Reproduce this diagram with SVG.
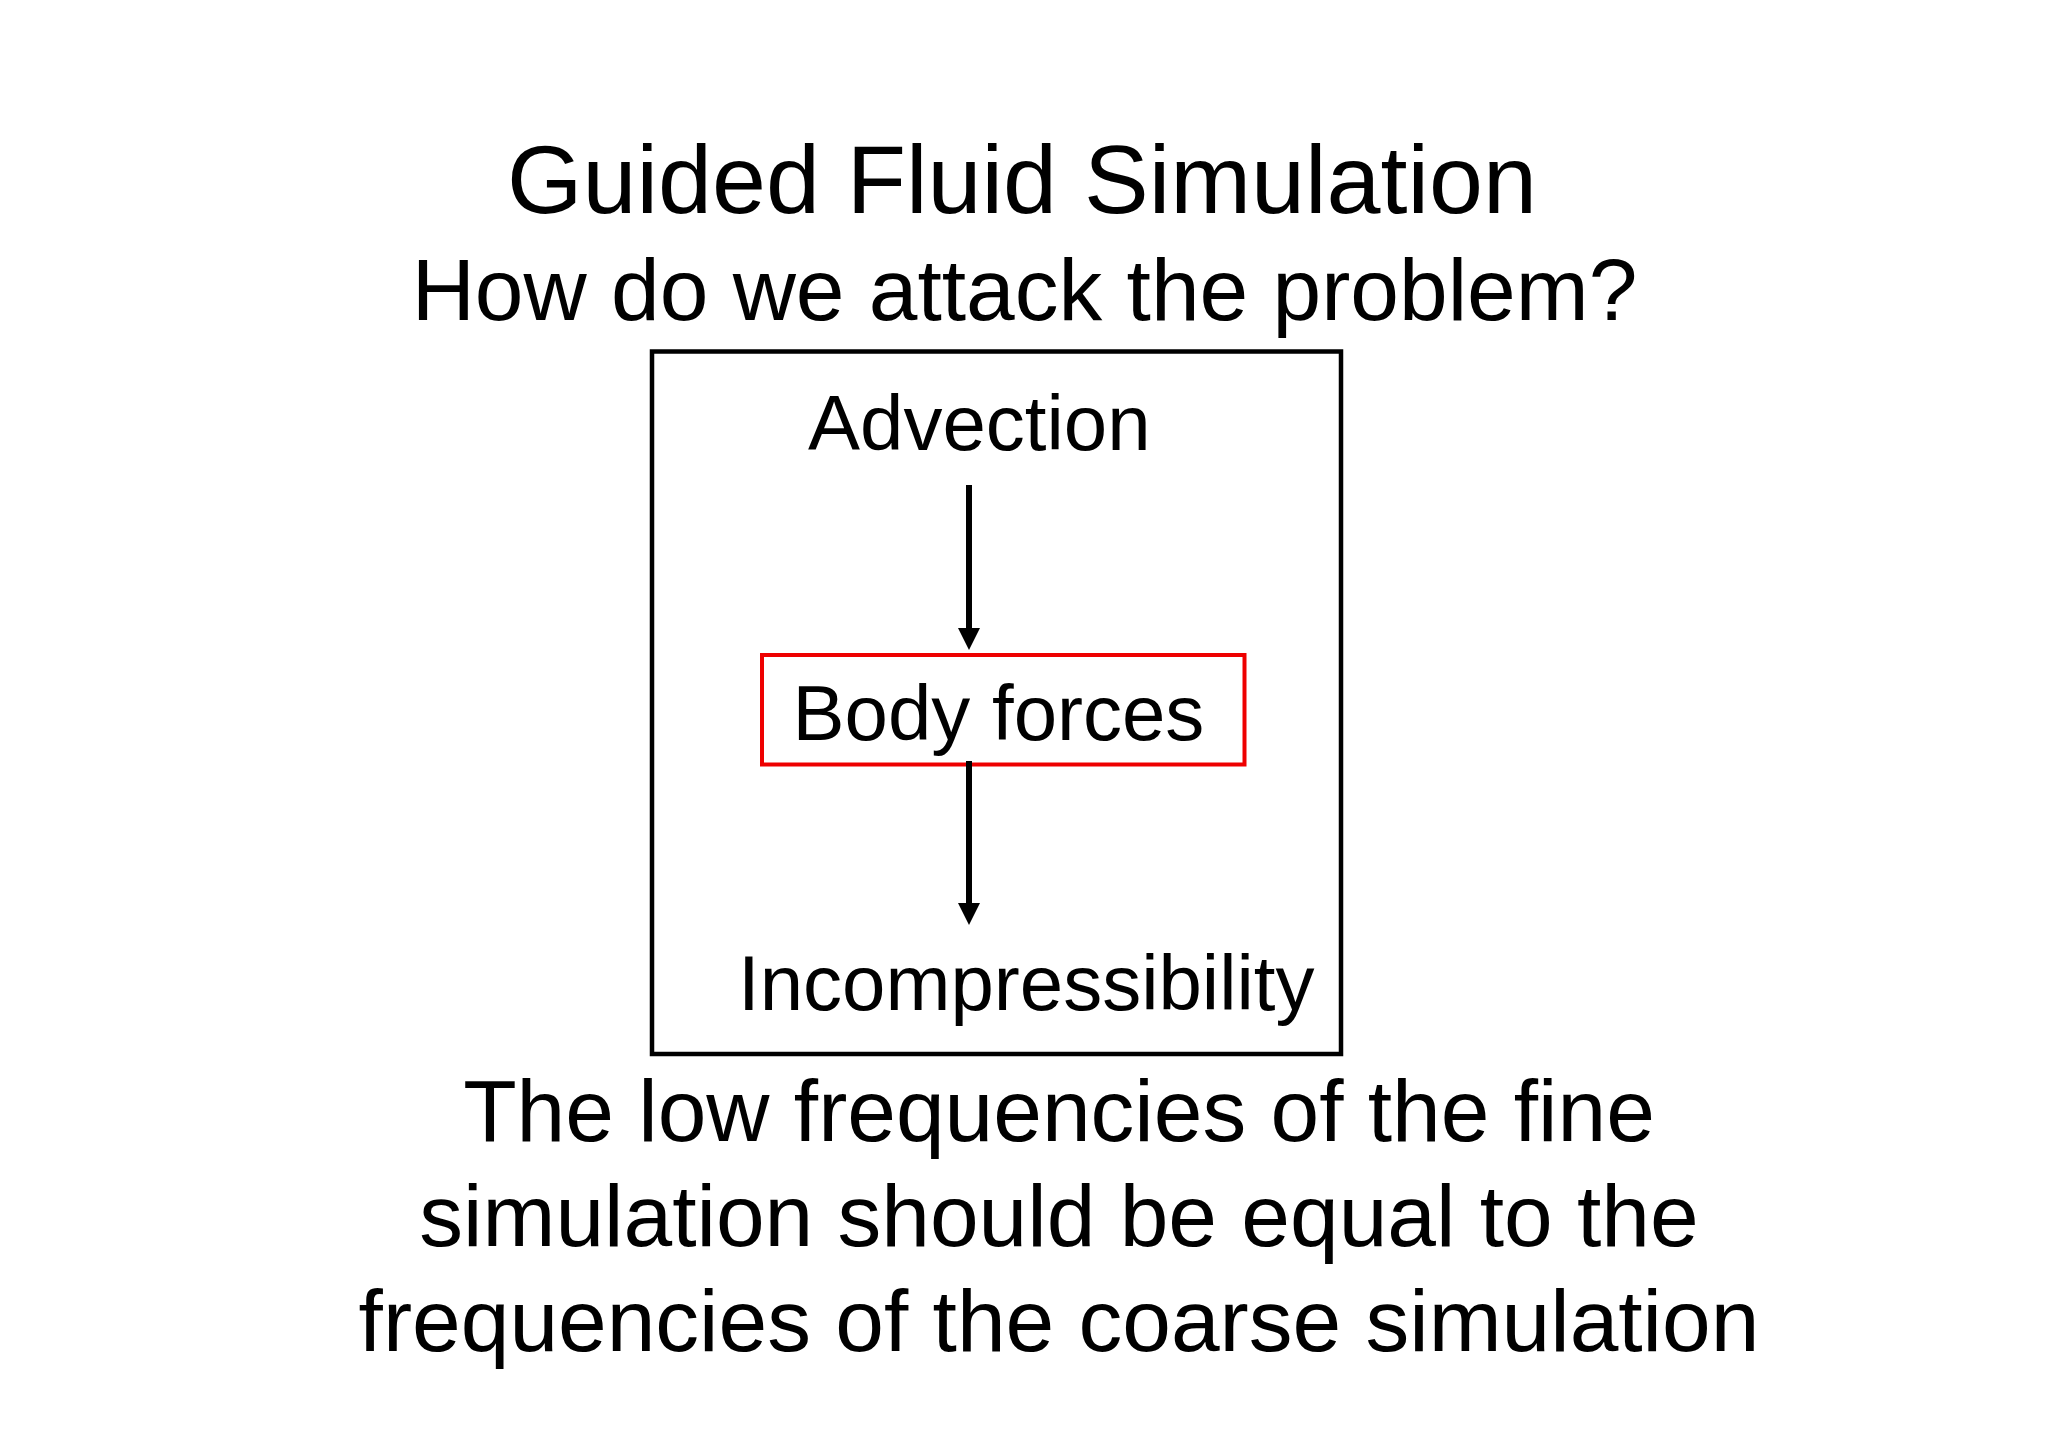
<svg xmlns="http://www.w3.org/2000/svg" width="2048" height="1448" viewBox="0 0 2048 1448">
  <style>
    text { font-family: "Liberation Sans", Arial, sans-serif; fill: #000; }
    .title { font-size: 97px; text-anchor: middle; }
    .big { font-size: 87.5px; text-anchor: middle; }
    .lbl { font-size: 78px; }
    .frame { fill: none; stroke: #000; stroke-width: 4.5; }
    .redbox { fill: none; stroke: #ee0000; stroke-width: 4; }
    .conn { fill: none; stroke: #000; stroke-width: 6; marker-end: url(#arrow); }
  </style>
  <defs>
    <marker id="arrow" markerUnits="userSpaceOnUse" markerWidth="22" markerHeight="22" refX="12" refY="11" orient="auto">
      <path d="M0,0 L22,11 L0,22 z" fill="#000"/>
    </marker>
  </defs>
  <rect width="2048" height="1448" fill="#fff"/>
  <g id="title">
    <text class="title" x="1022" y="213">Guided Fluid Simulation</text>
    <text class="big" x="1024.5" y="320">How do we attack the problem?</text>
  </g>
  <g id="frame">
    <rect class="frame" x="652" y="351.5" width="689" height="702.5"/>
  </g>
  <g id="advection">
    <text class="lbl" x="808" y="450">Advection</text>
  </g>
  <g id="body-forces">
    <rect class="redbox" x="762" y="655" width="482.5" height="109.5"/>
    <text class="lbl" x="792.5" y="740">Body forces</text>
  </g>
  <g id="incompressibility">
    <text class="lbl" x="738" y="1010">Incompressibility</text>
  </g>
  <g id="connectors">
    <path class="conn" d="M969,485 V640"/>
    <path class="conn" d="M969,761 V915"/>
  </g>
  <g id="conclusion">
    <text class="big" x="1059" y="1141">The low frequencies of the fine</text>
    <text class="big" x="1059" y="1246">simulation should be equal to the</text>
    <text class="big" x="1059" y="1351">frequencies of the coarse simulation</text>
  </g>
</svg>
